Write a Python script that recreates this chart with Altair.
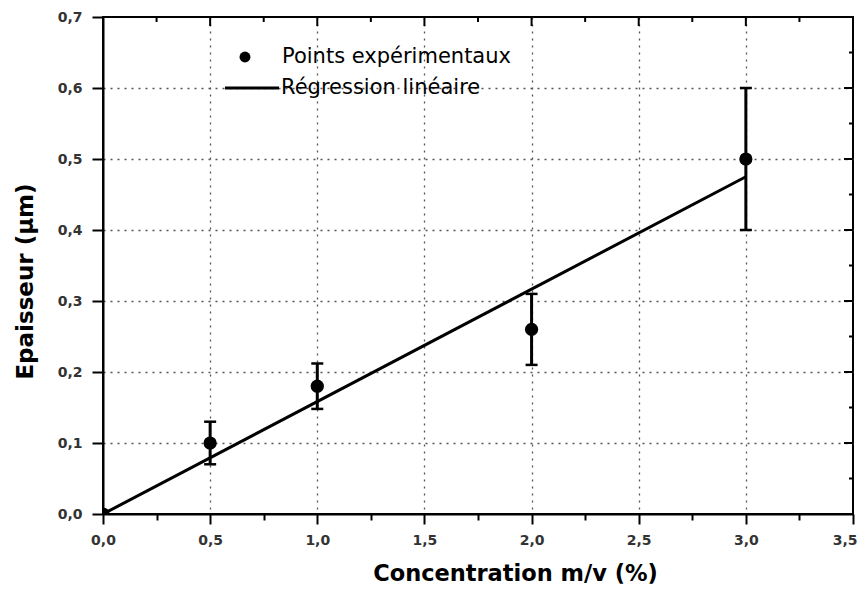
import altair as alt
import pandas as pd

# ---- data ----
conc = [0.0, 0.5, 1.0, 2.0, 3.0]
thickness = [0.0, 0.10, 0.18, 0.26, 0.50]
error = [0.0, 0.03, 0.032, 0.05, 0.10]

fit_x = [0.0, 3.0]
fit_y = [0.0, 0.475]

x_ticks = [0.0, 0.25, 0.5, 0.75, 1.0, 1.25, 1.5, 1.75, 2.0, 2.25, 2.5, 2.75, 3.0, 3.25, 3.5]
y_ticks = [0.0, 0.05, 0.1, 0.15, 0.2, 0.25, 0.3, 0.35, 0.4, 0.45, 0.5, 0.55, 0.6, 0.65, 0.7]

legend_labels = ["Points expérimentaux", "Régression linéaire"]
x_title = "Concentration m/v (%)"
y_title = "Epaisseur (µm)"

W, H = 750, 497

pts = pd.DataFrame({"x": conc, "y": thickness, "err": error})
pts["lo"] = pts["y"] - pts["err"]
pts["hi"] = pts["y"] + pts["err"]
fit = pd.DataFrame({"x": fit_x, "y": fit_y})
xt = pd.DataFrame({"t": x_ticks})
yt = pd.DataFrame({"t": y_ticks})

x_scale = alt.Scale(domain=[0, 3.5], nice=False, zero=False)
y_scale = alt.Scale(domain=[0, 0.7], nice=False, zero=False)

major_x = "abs(datum.value*2 - round(datum.value*2)) < 0.000001"
major_y = "abs(datum.value*10 - round(datum.value*10)) < 0.000001"
major_xt = major_x.replace("datum.value", "datum.t")
major_yt = major_y.replace("datum.value", "datum.t")

lab_font = "DejaVu Sans"

x_axis = alt.Axis(
    values=x_ticks, title=x_title,
    labelExpr=f"({major_x}) ? replace(format(datum.value, '.1f'), '.', ',') : ''",
    tickSize={"condition": {"test": major_x, "value": 10}, "value": 6},
    tickColor="black", tickWidth=2,
    domainColor="black", domainWidth=2,
    grid=True, gridColor="#555555", gridDash=[2, 5], gridWidth=1.3,
    gridOpacity={"condition": {"test": f"({major_x}) && datum.value > 0.01 && datum.value < 3.49", "value": 1}, "value": 0},
    labelFont=lab_font, labelFontWeight="bold", labelFontSize=14, labelColor="#333333",
    labelAlign={"condition": {"test": "datum.value > 3.4", "value": "right"}, "value": "center"},
    labelOffset={"condition": {"test": "datum.value > 3.4", "value": 4}, "value": 0},
    labelPadding=9, labelOverlap=False, labelFlush=False,
    titleFont=lab_font, titleFontWeight="bold", titleFontSize=22.5, titleColor="black",
    titleX=412, titleY=66, titleAlign="center", titleBaseline="alphabetic",
)

y_axis = alt.Axis(
    values=y_ticks, title=y_title,
    labelExpr=f"({major_y}) ? replace(format(datum.value, '.1f'), '.', ',') : ''",
    tickSize={"condition": {"test": major_y, "value": 11}, "value": 6},
    tickColor="black", tickWidth=2,
    domainColor="black", domainWidth=2,
    grid=True, gridColor="#555555", gridDash=[2, 5], gridWidth=1.3,
    gridOpacity={"condition": {"test": f"({major_y}) && datum.value > 0.01 && datum.value < 0.69", "value": 1}, "value": 0},
    labelFont=lab_font, labelFontWeight="bold", labelFontSize=14, labelColor="#333333",
    labelPadding=10, labelOverlap=False, labelFlush=False,
    titleFont=lab_font, titleFontWeight="bold", titleFontSize=23, titleColor="black",
    titleX=-78, titleY=264, titleAlign="center", titleBaseline="middle",
)

line = alt.Chart(fit).mark_line(color="black", strokeWidth=3, clip=True).encode(
    x=alt.X("x:Q", scale=x_scale, axis=x_axis),
    y=alt.Y("y:Q", scale=y_scale, axis=y_axis),
)

# inward ticks on the top and right frame edges
top_major = alt.Chart(xt).transform_filter(major_xt).mark_rule(color="black", strokeWidth=2).encode(
    x="t:Q", y=alt.value(0), y2=alt.value(9)
)
top_minor = alt.Chart(xt).transform_filter(f"!({major_xt})").mark_rule(color="black", strokeWidth=2).encode(
    x="t:Q", y=alt.value(0), y2=alt.value(5)
)
right_major = alt.Chart(yt).transform_filter(major_yt).mark_rule(color="black", strokeWidth=2).encode(
    y="t:Q", x=alt.value(W), x2=alt.value(W - 9)
)
right_minor = alt.Chart(yt).transform_filter(f"!({major_yt})").mark_rule(color="black", strokeWidth=2).encode(
    y="t:Q", x=alt.value(W), x2=alt.value(W - 4)
)

eb_base = alt.Chart(pts).transform_filter("datum.err > 0")
bars = eb_base.mark_rule(color="black", strokeWidth=3).encode(
    x="x:Q", y="lo:Q", y2="hi:Q"
)
cap_hi = eb_base.mark_rule(color="black", strokeWidth=2.5, xOffset=-6, x2Offset=6).encode(
    x="x:Q", x2="x:Q", y="hi:Q"
)
cap_lo = eb_base.mark_rule(color="black", strokeWidth=2.5, xOffset=-6, x2Offset=6).encode(
    x="x:Q", x2="x:Q", y="lo:Q"
)
points = alt.Chart(pts).mark_circle(size=175, color="black", opacity=1, clip=True).encode(
    x="x:Q", y="y:Q"
)

# manual legend (inside the plot, top-left)
leg_df1 = pd.DataFrame({"label": [legend_labels[0]]})
leg_df2 = pd.DataFrame({"label": [legend_labels[1]]})
leg_pt = alt.Chart(leg_df1).mark_circle(size=120, color="black", opacity=1).encode(
    x=alt.value(142), y=alt.value(40)
)
leg_txt1 = alt.Chart(leg_df1).mark_text(align="left", baseline="middle", font=lab_font, fontSize=21, color="black").encode(
    x=alt.value(179), y=alt.value(40), text="label:N"
)
leg_line = alt.Chart(leg_df2).mark_rule(color="black", strokeWidth=3).encode(
    x=alt.value(122), x2=alt.value(176), y=alt.value(71)
)
leg_txt2 = alt.Chart(leg_df2).mark_text(align="left", baseline="middle", font=lab_font, fontSize=21, color="black").encode(
    x=alt.value(178), y=alt.value(71), text="label:N"
)

chart = alt.layer(
    line, top_major, top_minor, right_major, right_minor,
    bars, cap_hi, cap_lo, points, leg_pt, leg_txt1, leg_line, leg_txt2
).properties(
    width=W, height=H,
    autosize=alt.AutoSizeParams(type="none"),
    padding={"left": 95, "top": 9, "right": 5, "bottom": 70},
    background="white",
).configure_view(stroke="black", strokeWidth=2)

chart.save("out.html", embed_options={"renderer": "svg", "actions": False})
